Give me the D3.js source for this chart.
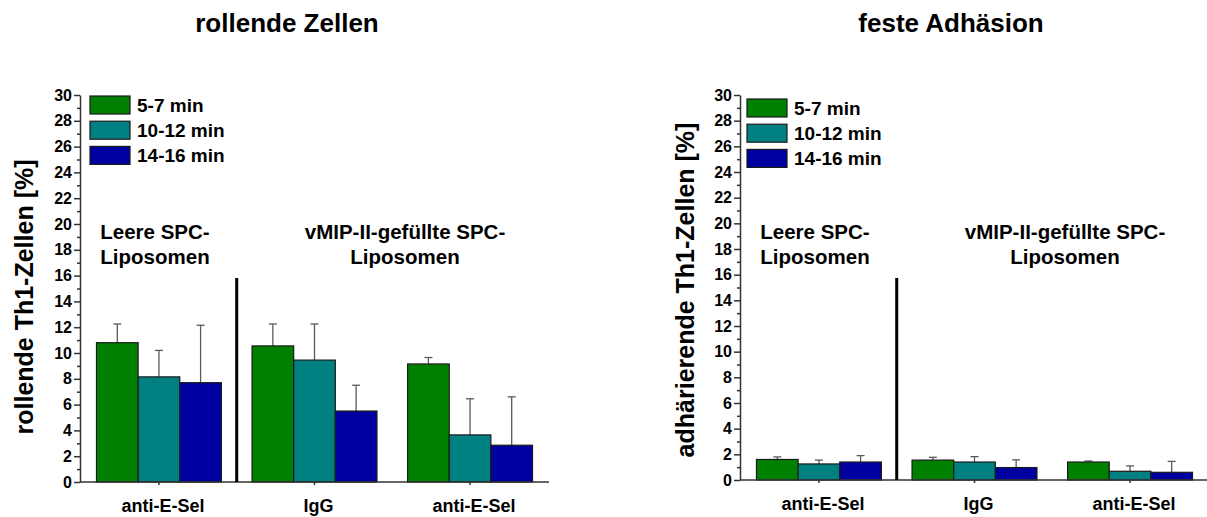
<!DOCTYPE html>
<html>
<head>
<meta charset="utf-8">
<script src="https://cdn.jsdelivr.net/npm/d3@7"></script>
<style>
  body { margin: 0; background: #fff; }
  svg text { font-family: "Liberation Sans", Arial, sans-serif; font-weight: bold; fill: #000; }
</style>
</head>
<body>
<div class="chart"></div>
<script>
// categories + series
const categories = ["anti-E-Sel", "IgG", "anti-E-Sel"];
const seriesNames = ["5-7 min", "10-12 min", "14-16 min"];
const seriesColors = ["#008000", "#008080", "#0000a0"];

// rollende Zellen (mean, upper error)
const rolling57 = [10.8, 10.55, 9.15];
const rolling1012 = [8.15, 9.45, 3.65];
const rolling1416 = [7.7, 5.5, 2.85];
const rolling57Err = [1.45, 1.7, 0.5];
const rolling1012Err = [2.05, 2.8, 2.8];
const rolling1416Err = [4.45, 2.0, 3.75];

// feste Adhäsion
const adh57 = [1.6, 1.55, 1.4];
const adh1012 = [1.25, 1.4, 0.68];
const adh1416 = [1.4, 0.97, 0.6];
const adh57Err = [0.2, 0.22, 0.08];
const adh1012Err = [0.3, 0.42, 0.42];
const adh1416Err = [0.5, 0.6, 0.85];

const yTicks = d3.range(0, 31, 2);
const yMinor = d3.range(1, 30, 2);

const svg = d3.select(".chart").append("svg")
    .attr("width", 1207)
    .attr("height", 517);

function panel(opt) {
    const x0 = opt.left;
    const x = d3.scaleBand()
        .domain([0, 1, 2])
        .range([x0, x0 + 469])
        .paddingInner(0.197)
        .paddingOuter(0.106);
    const xs = d3.scaleBand()
        .domain([0, 1, 2])
        .range([0, x.bandwidth()]);
    const y = d3.scaleLinear()
        .domain([0, 30])
        .range([opt.bottom, 95]);

    const g = svg.append("g");

    // bars
    const rows = [];
    opt.means.forEach((arr, s) => arr.forEach((v, c) => rows.push({c, s, v, e: opt.errs[s][c]})));

    // error bars (upper only)
    const eb = g.selectAll(".err").data(rows).join("g").attr("class", "err")
        .attr("stroke", "#5a5a5a").attr("stroke-width", 1.3);
    eb.append("line")
        .attr("x1", d => x(d.c) + xs(d.s) + xs.bandwidth() / 2)
        .attr("x2", d => x(d.c) + xs(d.s) + xs.bandwidth() / 2)
        .attr("y1", d => y(d.v))
        .attr("y2", d => y(d.v + d.e));
    eb.append("line")
        .attr("x1", d => x(d.c) + xs(d.s) + xs.bandwidth() / 2 - 4)
        .attr("x2", d => x(d.c) + xs(d.s) + xs.bandwidth() / 2 + 4)
        .attr("y1", d => y(d.v + d.e))
        .attr("y2", d => y(d.v + d.e));

    g.selectAll(".bar").data(rows).join("rect").attr("class", "bar")
        .attr("x", d => x(d.c) + xs(d.s))
        .attr("y", d => y(d.v))
        .attr("width", xs.bandwidth())
        .attr("height", d => y(0) - y(d.v))
        .attr("fill", d => seriesColors[d.s])
        .attr("stroke", "#1a1a1a")
        .attr("stroke-width", 1.2);

    // y axis
    const yAxis = g.append("g")
        .attr("transform", `translate(${x0},0)`)
        .call(d3.axisLeft(y).tickValues(yTicks).tickSize(6).tickPadding(2).tickSizeOuter(0));
    g.append("g")
        .attr("transform", `translate(${x0},0)`)
        .call(d3.axisLeft(y).tickValues(yMinor).tickSize(3).tickFormat("").tickSizeOuter(0))
        .call(a => a.select(".domain").remove());
    yAxis.selectAll("text").attr("font-size", 16).attr("font-family", null);
    g.selectAll(".domain, .tick line").attr("stroke", "#333").attr("stroke-width", 1.5);

    // x axis
    const xAxis = g.append("g")
        .attr("transform", `translate(0,${y(0)})`)
        .call(d3.axisBottom(x).tickSize(3).tickPadding(14).tickSizeOuter(0)
            .tickFormat(i => categories[i]));
    xAxis.selectAll("text").attr("font-size", 18).attr("font-family", null).attr("dx", 4);
    xAxis.selectAll(".domain, .tick line").attr("stroke", "#333").attr("stroke-width", 1.5);
    xAxis.select(".domain").attr("d", `M${x0},0H${x0 + 469}`);

    // divider
    const xd = (x(0) + x.bandwidth() + x(1)) / 2;
    g.append("line")
        .attr("x1", xd).attr("x2", xd)
        .attr("y1", 278).attr("y2", y(0))
        .attr("stroke", "#000").attr("stroke-width", 3);

    // annotations
    const ann = [[x0 + 75, ["Leere SPC-", "Liposomen"]], [x0 + 325, ["vMIP-II-gefüllte SPC-", "Liposomen"]]];
    ann.forEach(([cx, lines]) => {
        lines.forEach((t, i) => {
            g.append("text")
                .attr("x", cx).attr("y", 239 + i * 24.5)
                .attr("text-anchor", "middle")
                .attr("font-size", 20.5)
                .text(t);
        });
    });

    // legend
    const leg = g.selectAll(".leg").data(seriesNames).join("g").attr("class", "leg")
        .attr("transform", (d, i) => `translate(${x0 + opt.legX},${opt.legY + i * 25.2})`);
    leg.append("rect")
        .attr("width", 40).attr("height", 18)
        .attr("fill", (d, i) => seriesColors[i])
        .attr("stroke", "#1a1a1a").attr("stroke-width", 1.2);
    leg.append("text")
        .attr("x", 47).attr("y", 16)
        .attr("font-size", 19)
        .text(d => d);

    // titles
    g.append("text")
        .attr("x", opt.titleX).attr("y", 32)
        .attr("text-anchor", "middle")
        .attr("font-size", 26)
        .text(opt.title);
    g.append("text")
        .attr("transform", `translate(${opt.yTitleX},${opt.yTitleY}) rotate(-90)`)
        .attr("text-anchor", "middle")
        .attr("font-size", 25)
        .text(opt.yTitle);
}

panel({
    left: 80, bottom: 482,
    means: [rolling57, rolling1012, rolling1416],
    errs: [rolling57Err, rolling1012Err, rolling1416Err],
    legX: 10, legY: 96,
    title: "rollende Zellen", titleX: 287,
    yTitle: "rollende Th1-Zellen [%]", yTitleX: 33, yTitleY: 297
});

panel({
    left: 740, bottom: 480,
    means: [adh57, adh1012, adh1416],
    errs: [adh57Err, adh1012Err, adh1416Err],
    legX: 7, legY: 99,
    title: "feste Adhäsion", titleX: 951,
    yTitle: "adhärierende Th1-Zellen [%]", yTitleX: 694, yTitleY: 290
});
</script>
</body>
</html>
